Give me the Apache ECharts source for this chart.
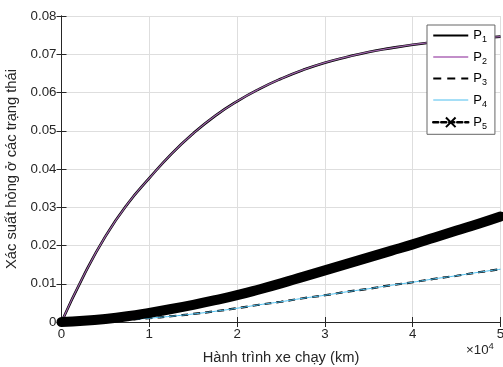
<!DOCTYPE html>
<html>
<head>
<meta charset="utf-8">
<script src="https://cdn.jsdelivr.net/npm/echarts@6/dist/echarts.min.js"></script>
<style>
  html, body { margin: 0; padding: 0; background: #fff; }
  #chart { width: 503px; height: 367px; }
</style>
</head>
<body>
<div id="chart"></div>
<script>
// distance in km
const distanceKm = [0, 2500, 5000, 7500, 10000, 12500, 15000, 17500, 20000, 22500, 25000, 27500, 30000,
  32500, 35000, 37500, 40000, 42500, 45000, 47500, 50000];
const p1 = [0, 0.0120, 0.0224, 0.0308, 0.0376, 0.0439, 0.0493, 0.0539, 0.0577, 0.0609, 0.0636, 0.0659, 0.0678,
  0.0693, 0.0706, 0.0716, 0.0725, 0.0732, 0.0738, 0.0742, 0.0746];
const p2 = p1.slice();
const p3 = [0, 0.0001, 0.0003, 0.0006, 0.0010, 0.0015, 0.0021, 0.0028, 0.0036, 0.0045, 0.0053, 0.0062, 0.0070,
  0.0079, 0.0087, 0.0096, 0.0104, 0.0113, 0.0121, 0.0130, 0.0138];
const p4 = p3.slice();
const p5 = [0, 0.0003, 0.0008, 0.0015, 0.0024, 0.0034, 0.0045, 0.0057, 0.0070, 0.0085, 0.0101, 0.0118, 0.0135,
  0.0152, 0.0169, 0.0186, 0.0203, 0.0221, 0.0239, 0.0257, 0.0276];
const yTicks = [0, 0.01, 0.02, 0.03, 0.04, 0.05, 0.06, 0.07, 0.08];

const pairs = (ys) => distanceKm.map((x, i) => [x, ys[i]]);
const xMark = 'path://M0,0L10,10M10,0L0,10';
const ink = '#262626';
const font = 'Arial, "Liberation Sans", sans-serif';

let chart = echarts.init(document.getElementById('chart'));

const baseAxis = {
  axisLine: { lineStyle: { color: ink, width: 1 } },
  axisTick: { inside: true, length: 5, lineStyle: { color: ink } },
  splitLine: { show: false },
  axisLabel: { show: false }
};

chart.setOption({
  animation: false,
  textStyle: { fontFamily: font },
  grid: { left: 61.5, right: 2.5, top: 16, bottom: 45, containLabel: false, outerBoundsMode: 'none' },
  xAxis: [
    {
      type: 'value', min: 0, max: 50000, interval: 10000,
      name: 'Hành trình xe chạy (km)', nameLocation: 'middle', nameGap: 28,
      nameTextStyle: { fontSize: 14.7, color: ink, fontFamily: font },
      axisLine: { lineStyle: { color: ink } },
      axisTick: { inside: true, length: 5, lineStyle: { color: ink } },
      axisLabel: { color: ink, fontSize: 13.3, margin: 6, formatter: v => String(v / 10000) },
      splitLine: { show: true, lineStyle: { color: '#dedede' } }
    },
    Object.assign({ type: 'value', position: 'top', min: 0, max: 50000, interval: 10000 }, baseAxis)
  ],
  yAxis: [
    {
      type: 'value', min: 0, max: 0.08, interval: 0.01,
      name: 'Xác suất hỏng ở các trạng thái', nameLocation: 'middle', nameGap: 38,
      nameTextStyle: { fontSize: 14.7, color: ink, fontFamily: font },
      axisLine: { show: true, lineStyle: { color: ink } },
      axisTick: { show: true, inside: true, length: 5, lineStyle: { color: ink } },
      axisLabel: { color: ink, fontSize: 13.3, margin: 5,
        formatter: v => { const t = yTicks.find(k => Math.abs(k - v) < 1e-9); return t === 0 ? '0' : String(+(t ?? v).toFixed(2)); } },
      splitLine: { show: true, lineStyle: { color: '#dedede' } }
    },
    Object.assign({ type: 'value', position: 'right', min: 0, max: 0.08, interval: 0.01 }, baseAxis, {
      axisLine: { show: true, lineStyle: { color: ink } },
      axisTick: { show: true, inside: true, length: 5, lineStyle: { color: ink } }
    })
  ],
  legend: {
    orient: 'vertical',
    left: 427, top: 25,
    padding: [4, 8, 3, 5],
    itemWidth: 35, itemHeight: 12, itemGap: 6,
    backgroundColor: '#fff',
    borderColor: '#666', borderWidth: 1,
    formatter: name => 'P{s|' + name.slice(1) + '}',
    textStyle: {
      fontSize: 13, color: '#000', fontFamily: font,
      rich: { s: { fontSize: 9, padding: [9, 0, 0, 0], fontFamily: font, color: '#000' } }
    },
    data: [
      { name: 'P1', lineStyle: { width: 2 }, itemStyle: { opacity: 0 } },
      { name: 'P2', lineStyle: { color: '#c28ec9', width: 2 }, itemStyle: { opacity: 0 } },
      { name: 'P3', lineStyle: { width: 2, type: [8, 6] }, itemStyle: { opacity: 0 } },
      { name: 'P4', lineStyle: { color: '#4dbeee', width: 1 }, itemStyle: { opacity: 0 } },
      { name: 'P5', lineStyle: { width: 2.5, type: [5, 3] } }
    ]
  },
  graphic: [{
    type: 'text', left: 466, top: 341,
    style: {
      text: '×10{e|4}', fontSize: 13.3, fill: ink, fontFamily: font,
      rich: { e: { fontSize: 9.5, padding: [0, 0, 9, 0], fill: ink, fontFamily: font } }
    }
  }],
  series: [
    { name: 'P1', type: 'line', data: pairs(p1), smooth: true, symbol: 'none',
      lineStyle: { color: '#000', width: 2.6 }, itemStyle: { color: '#000' }, z: 2 },
    { name: 'P2', type: 'line', data: pairs(p2), smooth: true, symbol: 'none',
      lineStyle: { color: '#9c62a8', width: 1.2 }, itemStyle: { color: '#c28ec9' }, z: 3 },
    { name: 'P3', type: 'line', data: pairs(p3), smooth: true, symbol: 'none',
      lineStyle: { color: '#000', width: 2.2, type: [7, 5] }, itemStyle: { color: '#000' }, z: 2 },
    { name: 'P4', type: 'line', data: pairs(p4), smooth: true, symbol: 'none',
      lineStyle: { color: '#4dbeee', width: 1 }, itemStyle: { color: '#4dbeee' }, z: 3 },
    { name: 'P5', type: 'line', data: pairs(p5), smooth: true,
      symbol: xMark, symbolSize: 9, showSymbol: false, clip: false,
      lineStyle: { color: '#000', width: 10, cap: 'round' },
      itemStyle: { color: 'none', borderColor: '#000', borderWidth: 2 }, z: 4 }
  ]
});
</script>
</body>
</html>
